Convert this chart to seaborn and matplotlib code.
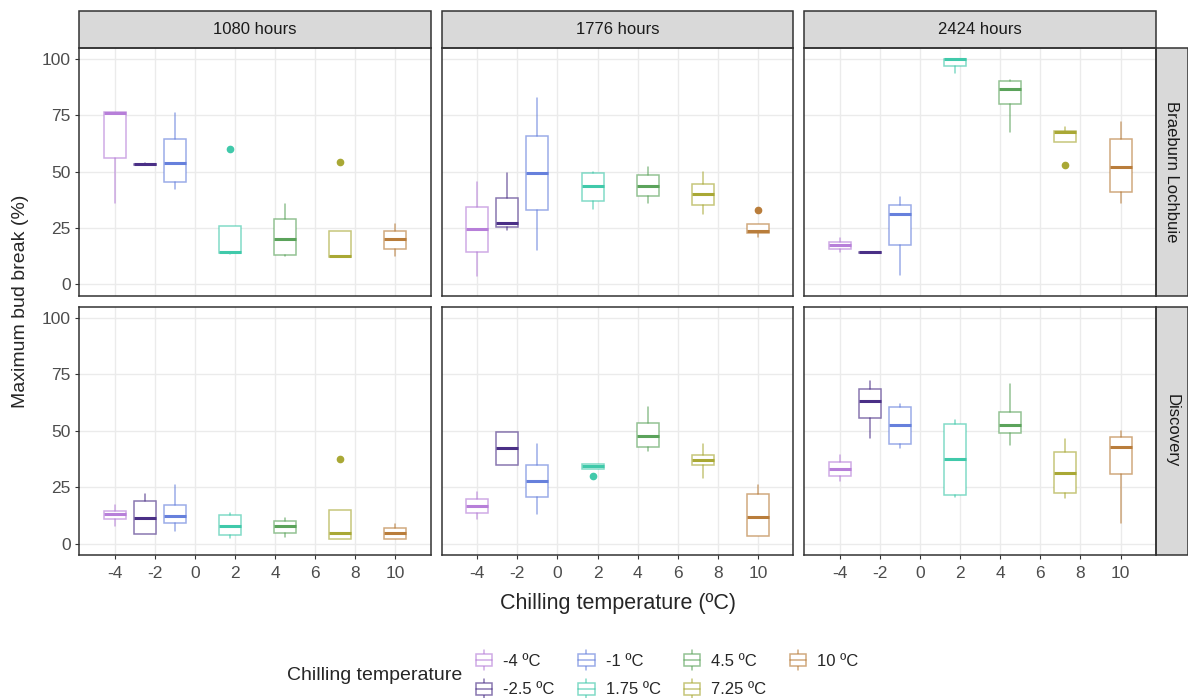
import numpy as np
import pandas as pd
import matplotlib.pyplot as plt
import seaborn as sns
from matplotlib.patches import Rectangle
from matplotlib.lines import Line2D
from matplotlib.legend_handler import HandlerBase
from matplotlib.colors import to_rgba

# -------------------- DATA --------------------
temps = [-4, -2.5, -1, 1.75, 4.5, 7.25, 10]
temp_labels = ["-4 ºC", "-2.5 ºC", "-1 ºC", "1.75 ºC", "4.5 ºC", "7.25 ºC", "10 ºC"]
colors = ["#b77fd9", "#4a2f86", "#6680dc", "#40c9aa", "#5ba35b", "#a9a835", "#b97d3b"]
hours = ["1080 hours", "1776 hours", "2424 hours"]
cultivars = ["Braeburn Lochbuie", "Discovery"]

# (lower whisker, q1, median, q3, upper whisker) per chilling temperature
braeburn_1080 = [(36, 56, 76, 76.5, 76.5), (52.8, 52.8, 53.2, 53.5, 54), (42.4, 45.2, 53.7, 64.4, 75.9),
                 (13.3, 13.9, 14.3, 26, 26), (12.6, 13, 20.1, 29.1, 35.7), (12.1, 12.1, 12.7, 23.9, 23.9),
                 (12.4, 15.7, 20.1, 23.8, 26.7)]
braeburn_1776 = [(3.9, 14.2, 24.4, 34.5, 45.2), (24.2, 25.4, 27.2, 38.1, 49.6), (15.1, 32.8, 49.3, 65.8, 82.6),
                 (33.4, 37.1, 43.6, 49.4, 50), (36, 39.4, 43.6, 48.3, 52.2), (31.3, 35, 40, 44.6, 50),
                 (21, 22.7, 23.6, 26.6, 26.6)]
braeburn_2424 = [(14.6, 15.7, 17.6, 19, 20.5), (13.9, 13.9, 14.2, 14.4, 14.4), (4, 17.3, 31.3, 35, 38.7),
                 (93.6, 97, 100, 100, 100), (67.5, 80, 86.8, 90, 90.7), (63.3, 63.3, 67.5, 68.2, 69.7),
                 (36, 40.9, 52.1, 64.4, 71.9)]
discovery_1080 = [(7.8, 11.1, 13.3, 14.5, 17.3), (4.2, 4.2, 11.2, 18.8, 22.1), (5.8, 9, 12.3, 17.1, 25.8),
                  (2.5, 3.7, 8, 12.8, 13.8), (3.1, 4.9, 7.7, 10.2, 11.2), (2.1, 2.1, 4.9, 15.1, 15.1),
                  (2.2, 2.2, 4.9, 6.8, 8.6)]
discovery_1776 = [(11.1, 13.4, 16.5, 19.8, 23), (34.8, 34.8, 42.2, 49.6, 49.6), (13.1, 20.8, 27.8, 34.8, 44),
                  (33.1, 33.1, 34.6, 35.4, 35.4), (41, 42.8, 47.7, 53.4, 60.6), (29.2, 34.7, 36.9, 39.1, 44),
                  (3.3, 3.3, 11.8, 22.1, 25.8)]
discovery_2424 = [(27.8, 30, 33.2, 36, 39.1), (46.9, 55.6, 63.2, 68.5, 72.3), (42.2, 44.3, 52.4, 60.4, 62),
                  (20.7, 21.4, 37.5, 52.9, 54.6), (43.7, 49.1, 52.4, 58.2, 70.7), (20.1, 22.4, 31.2, 40.6, 46.2),
                  (9, 31, 42.9, 47.5, 49.8)]

out_cultivar = ["Braeburn Lochbuie", "Braeburn Lochbuie", "Braeburn Lochbuie", "Braeburn Lochbuie", "Discovery", "Discovery"]
out_hours = ["1080 hours", "1080 hours", "1776 hours", "2424 hours", "1080 hours", "1776 hours"]
out_temp = [1.75, 7.25, 10, 7.25, 7.25, 1.75]
out_value = [60.1, 54.2, 32.9, 53.1, 37.4, 30.0]

# -------------------- TABLE --------------------
panels = {
    ("Braeburn Lochbuie", "1080 hours"): braeburn_1080,
    ("Braeburn Lochbuie", "1776 hours"): braeburn_1776,
    ("Braeburn Lochbuie", "2424 hours"): braeburn_2424,
    ("Discovery", "1080 hours"): discovery_1080,
    ("Discovery", "1776 hours"): discovery_1776,
    ("Discovery", "2424 hours"): discovery_2424,
}
rows = []
for (cv, hr), stats in panels.items():
    for t, s in zip(temps, stats):
        rows.append(dict(cultivar=cv, hours=hr, temp=t, low=s[0], q1=s[1], med=s[2], q3=s[3], high=s[4]))
df = pd.DataFrame(rows)
outliers = pd.DataFrame(dict(cultivar=out_cultivar, hours=out_hours, temp=out_temp, value=out_value))
palette = dict(zip(temps, colors))

# -------------------- STYLE --------------------
sns.set_theme(style="whitegrid")
plt.rcParams["font.family"] = ["Liberation Sans", "DejaVu Sans"]
plt.rcParams["axes.unicode_minus"] = False
EDGE_ALPHA = 0.65


def draw_boxes(data, **kws):
    ax = plt.gca()
    for _, r in data.iterrows():
        col = palette[r.temp]
        fl = outliers[(outliers.cultivar == r.cultivar) & (outliers.hours == r.hours) & (outliers.temp == r.temp)]
        st = dict(whislo=r.low, q1=r.q1, med=r.med, q3=r.q3, whishi=r.high, fliers=fl.value.to_numpy())
        ax.bxp([st], positions=[r.temp], widths=1.1, showcaps=False, patch_artist=True, manage_ticks=False,
               boxprops=dict(facecolor="white", edgecolor=to_rgba(col, EDGE_ALPHA), linewidth=1.1),
               whiskerprops=dict(color=to_rgba(col, EDGE_ALPHA), linewidth=1.1),
               medianprops=dict(color=col, linewidth=2.2, solid_capstyle="butt"),
               flierprops=dict(marker="o", markerfacecolor=col, markeredgecolor=col, markersize=4.5,
                               linestyle="none"))


g = sns.FacetGrid(df, row="cultivar", col="hours", row_order=cultivars, col_order=hours,
                  sharex=True, sharey=True, height=3, aspect=1.3)
g.map_dataframe(draw_boxes)
g.set_titles(template="")
g.set_axis_labels("", "")

fig = g.figure
fig.set_size_inches(11.88, 6.98)
fig.subplots_adjust(left=79 / 1188, right=1156 / 1188, top=1 - 47.5 / 698, bottom=1 - 555 / 698,
                    wspace=0.0313, hspace=0.0443)

strip_h = 36.5 / 248.5
strip_w = 32 / 351.7
for i, cv in enumerate(cultivars):
    for j, hr in enumerate(hours):
        ax = g.axes[i, j]
        ax.set_xlim(-5.78, 11.77)
        ax.set_ylim(-5, 105)
        ax.set_xticks([-4, -2, 0, 2, 4, 6, 8, 10])
        ax.set_yticks([0, 25, 50, 75, 100])
        ax.grid(True, color="#ebebeb", linewidth=1.0)
        ax.set_axisbelow(True)
        for sp in ax.spines.values():
            sp.set_color("#333333")
            sp.set_linewidth(1.1)
            sp.set_visible(True)
        ax.tick_params(axis="both", length=3, width=0.8, color="#333333", labelsize=12.5,
                       labelcolor="#4d4d4d", bottom=(i == 1), left=(j == 0))
        ax.tick_params(axis="x", pad=5)
        ax.tick_params(axis="y", pad=3)
        if i == 0:
            ax.add_patch(Rectangle((0, 1), 1, strip_h, transform=ax.transAxes, facecolor="#d9d9d9",
                                   edgecolor="#333333", linewidth=1.1, clip_on=False))
            ax.text(0.5, 1 + strip_h / 2, hr, transform=ax.transAxes, ha="center", va="center",
                    fontsize=12, color="#1a1a1a")
        if j == 2:
            ax.add_patch(Rectangle((1, 0), strip_w, 1, transform=ax.transAxes, facecolor="#d9d9d9",
                                   edgecolor="#333333", linewidth=1.1, clip_on=False))
            ax.text(1 + strip_w / 2, 0.5, cv, transform=ax.transAxes, ha="center", va="center",
                    rotation=-90, fontsize=12, color="#1a1a1a")

fig.text(617.5 / 1188, 1 - 603 / 698, "Chilling temperature (ºC)", ha="center", va="center", fontsize=15.5)
fig.text(21 / 1188, 1 - 301 / 698, "Maximum bud break (%)", ha="center", va="center", rotation=90,
         fontsize=14)


# -------------------- LEGEND --------------------
class BoxKey(HandlerBase):
    def create_artists(self, legend, orig_handle, xdescent, ydescent, width, height, fontsize, trans):
        col = orig_handle.get_color()
        ec = to_rgba(col, EDGE_ALPHA)
        x0, y0 = -xdescent, -ydescent
        cx = x0 + width / 2
        box = Rectangle((x0 + 0.05 * width, y0 + 0.22 * height), 0.9 * width, 0.56 * height,
                        facecolor="white", edgecolor=ec, linewidth=1.1, transform=trans)
        med = Line2D([x0 + 0.05 * width, x0 + 0.95 * width], [y0 + height / 2] * 2, color=ec,
                     linewidth=1.1, transform=trans)
        w1 = Line2D([cx, cx], [y0, y0 + 0.22 * height], color=ec, linewidth=1.1, transform=trans)
        w2 = Line2D([cx, cx], [y0 + 0.78 * height, y0 + height], color=ec, linewidth=1.1, transform=trans)
        return [w1, w2, box, med]


handles = [Line2D([], [], color=c) for c in colors]
fig.legend(handles, temp_labels, handler_map={Line2D: BoxKey()}, ncol=4, frameon=False, fontsize=12,
           loc="upper left", bbox_to_anchor=(475 / 1188, 1 - 650 / 698), borderaxespad=0, borderpad=0,
           handlelength=1.1, handleheight=1.5, handletextpad=0.6, columnspacing=1.35, labelspacing=0.5)
fig.text(287 / 1188, 1 - 676 / 698, "Chilling temperature", ha="left", va="center", fontsize=14)

fig.savefig("out.png", dpi=100)
